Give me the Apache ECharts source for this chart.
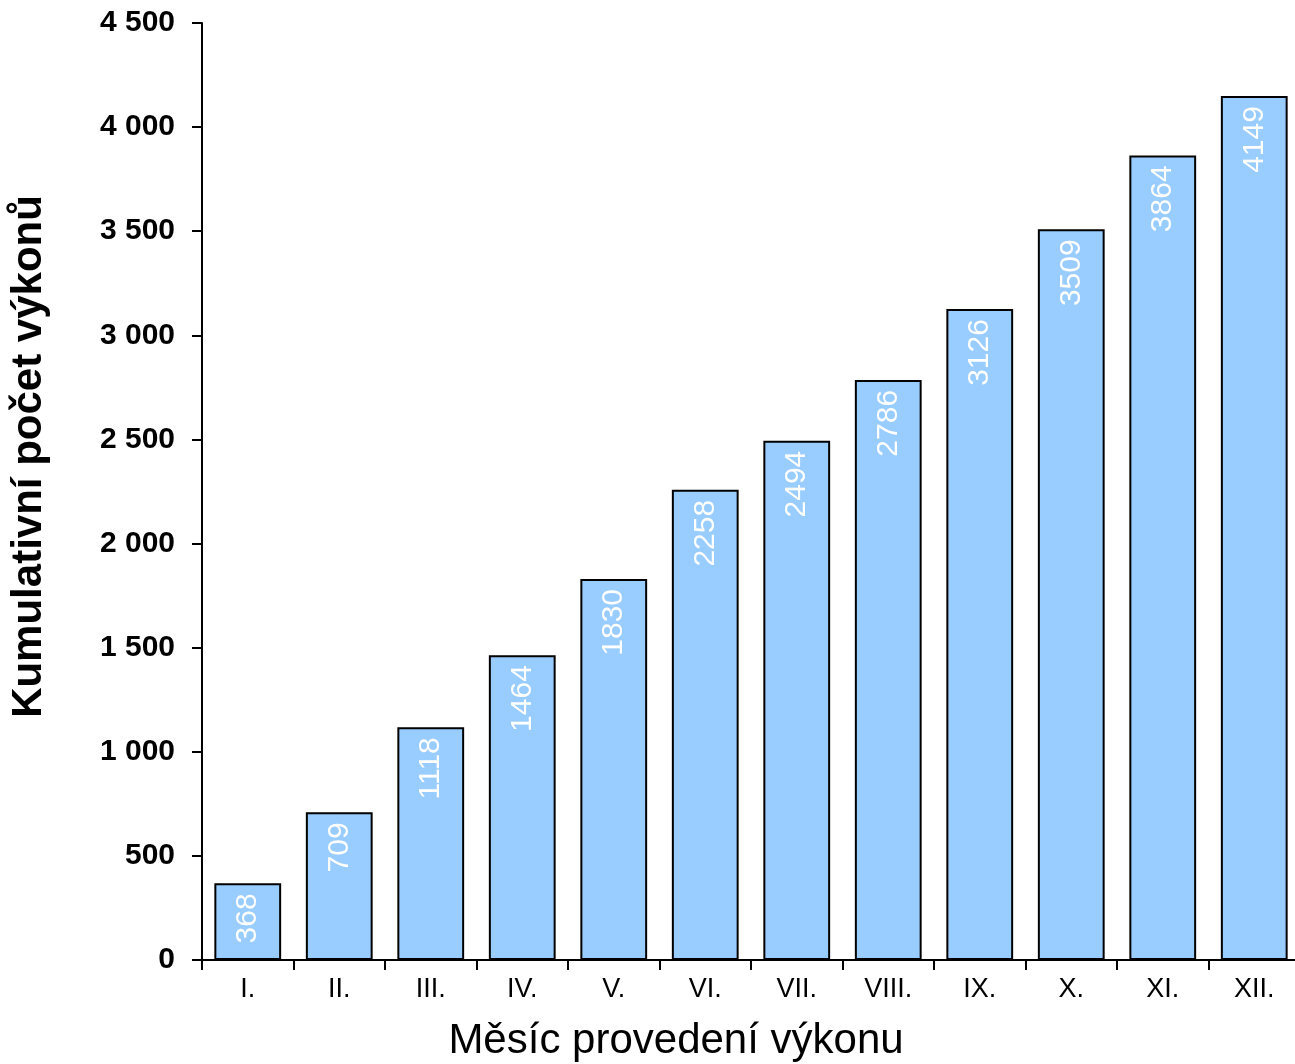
<!DOCTYPE html>
<html><head><meta charset="utf-8">
<script src="https://cdn.jsdelivr.net/npm/echarts@6/dist/echarts.min.js"></script>
<style>html,body{margin:0;padding:0;background:#fff}#c{width:1295px;height:1064px}</style>
</head><body><div id="c"></div>
<script>
const categories = ['I.','II.','III.','IV.','V.','VI.','VII.','VIII.','IX.','X.','XI.','XII.'];
const values = [368,709,1118,1464,1830,2258,2494,2786,3126,3509,3864,4149];
const yTicks = {min:0, max:4500, interval:500};
const xTitle = 'Měsíc provedení výkonu';
const yTitle = 'Kumulativní počet výkonů';

const font = '"Liberation Sans", Arial, Helvetica, sans-serif';
const chart = echarts.init(document.getElementById('c'), null, {renderer:'canvas'});
chart.setOption({
  animation:false,
  backgroundColor:'#fff',
  grid:{left:202, top:23, bottom:104, width:1098, containLabel:false, outerBoundsMode:'none'},
  xAxis:{
    type:'category', data:categories, boundaryGap:true,
    name:xTitle, nameLocation:'middle', nameGap:60,
    nameTextStyle:{fontFamily:font, fontSize:42, color:'#000', padding:[0,150,0,0]},
    axisLine:{lineStyle:{color:'#000', width:2}},
    axisTick:{show:true, length:10, lineStyle:{color:'#000', width:2}, alignWithLabel:false},
    axisLabel:{fontFamily:font, fontSize:27, color:'#000', margin:16},
    splitLine:{show:false}
  },
  yAxis:{
    type:'value', min:yTicks.min, max:yTicks.max, interval:yTicks.interval,
    name:yTitle, nameLocation:'middle', nameGap:152,
    nameTextStyle:{fontFamily:font, fontSize:42, fontWeight:'bold', color:'#000', padding:[0,0,0,70]},
    axisLine:{show:true, lineStyle:{color:'#000', width:2}},
    axisTick:{show:true, length:10, lineStyle:{color:'#000', width:2}},
    axisLabel:{fontFamily:font, fontSize:30, fontWeight:'bold', color:'#000', margin:27,
      formatter:v=>String(v).replace(/\B(?=(\d{3})+(?!\d))/g,' ')},
    splitLine:{show:false}
  },
  series:[{
    type:'bar', data:values, barCategoryGap:'27%',
    itemStyle:{color:'#99CCFF', borderColor:'#000', borderWidth:2},
    label:{show:true, position:'insideTop', rotate:90, align:'right', verticalAlign:'middle',
      distance:10, color:'#fff', fontFamily:font, fontSize:30}
  }]
});
</script></body></html>
